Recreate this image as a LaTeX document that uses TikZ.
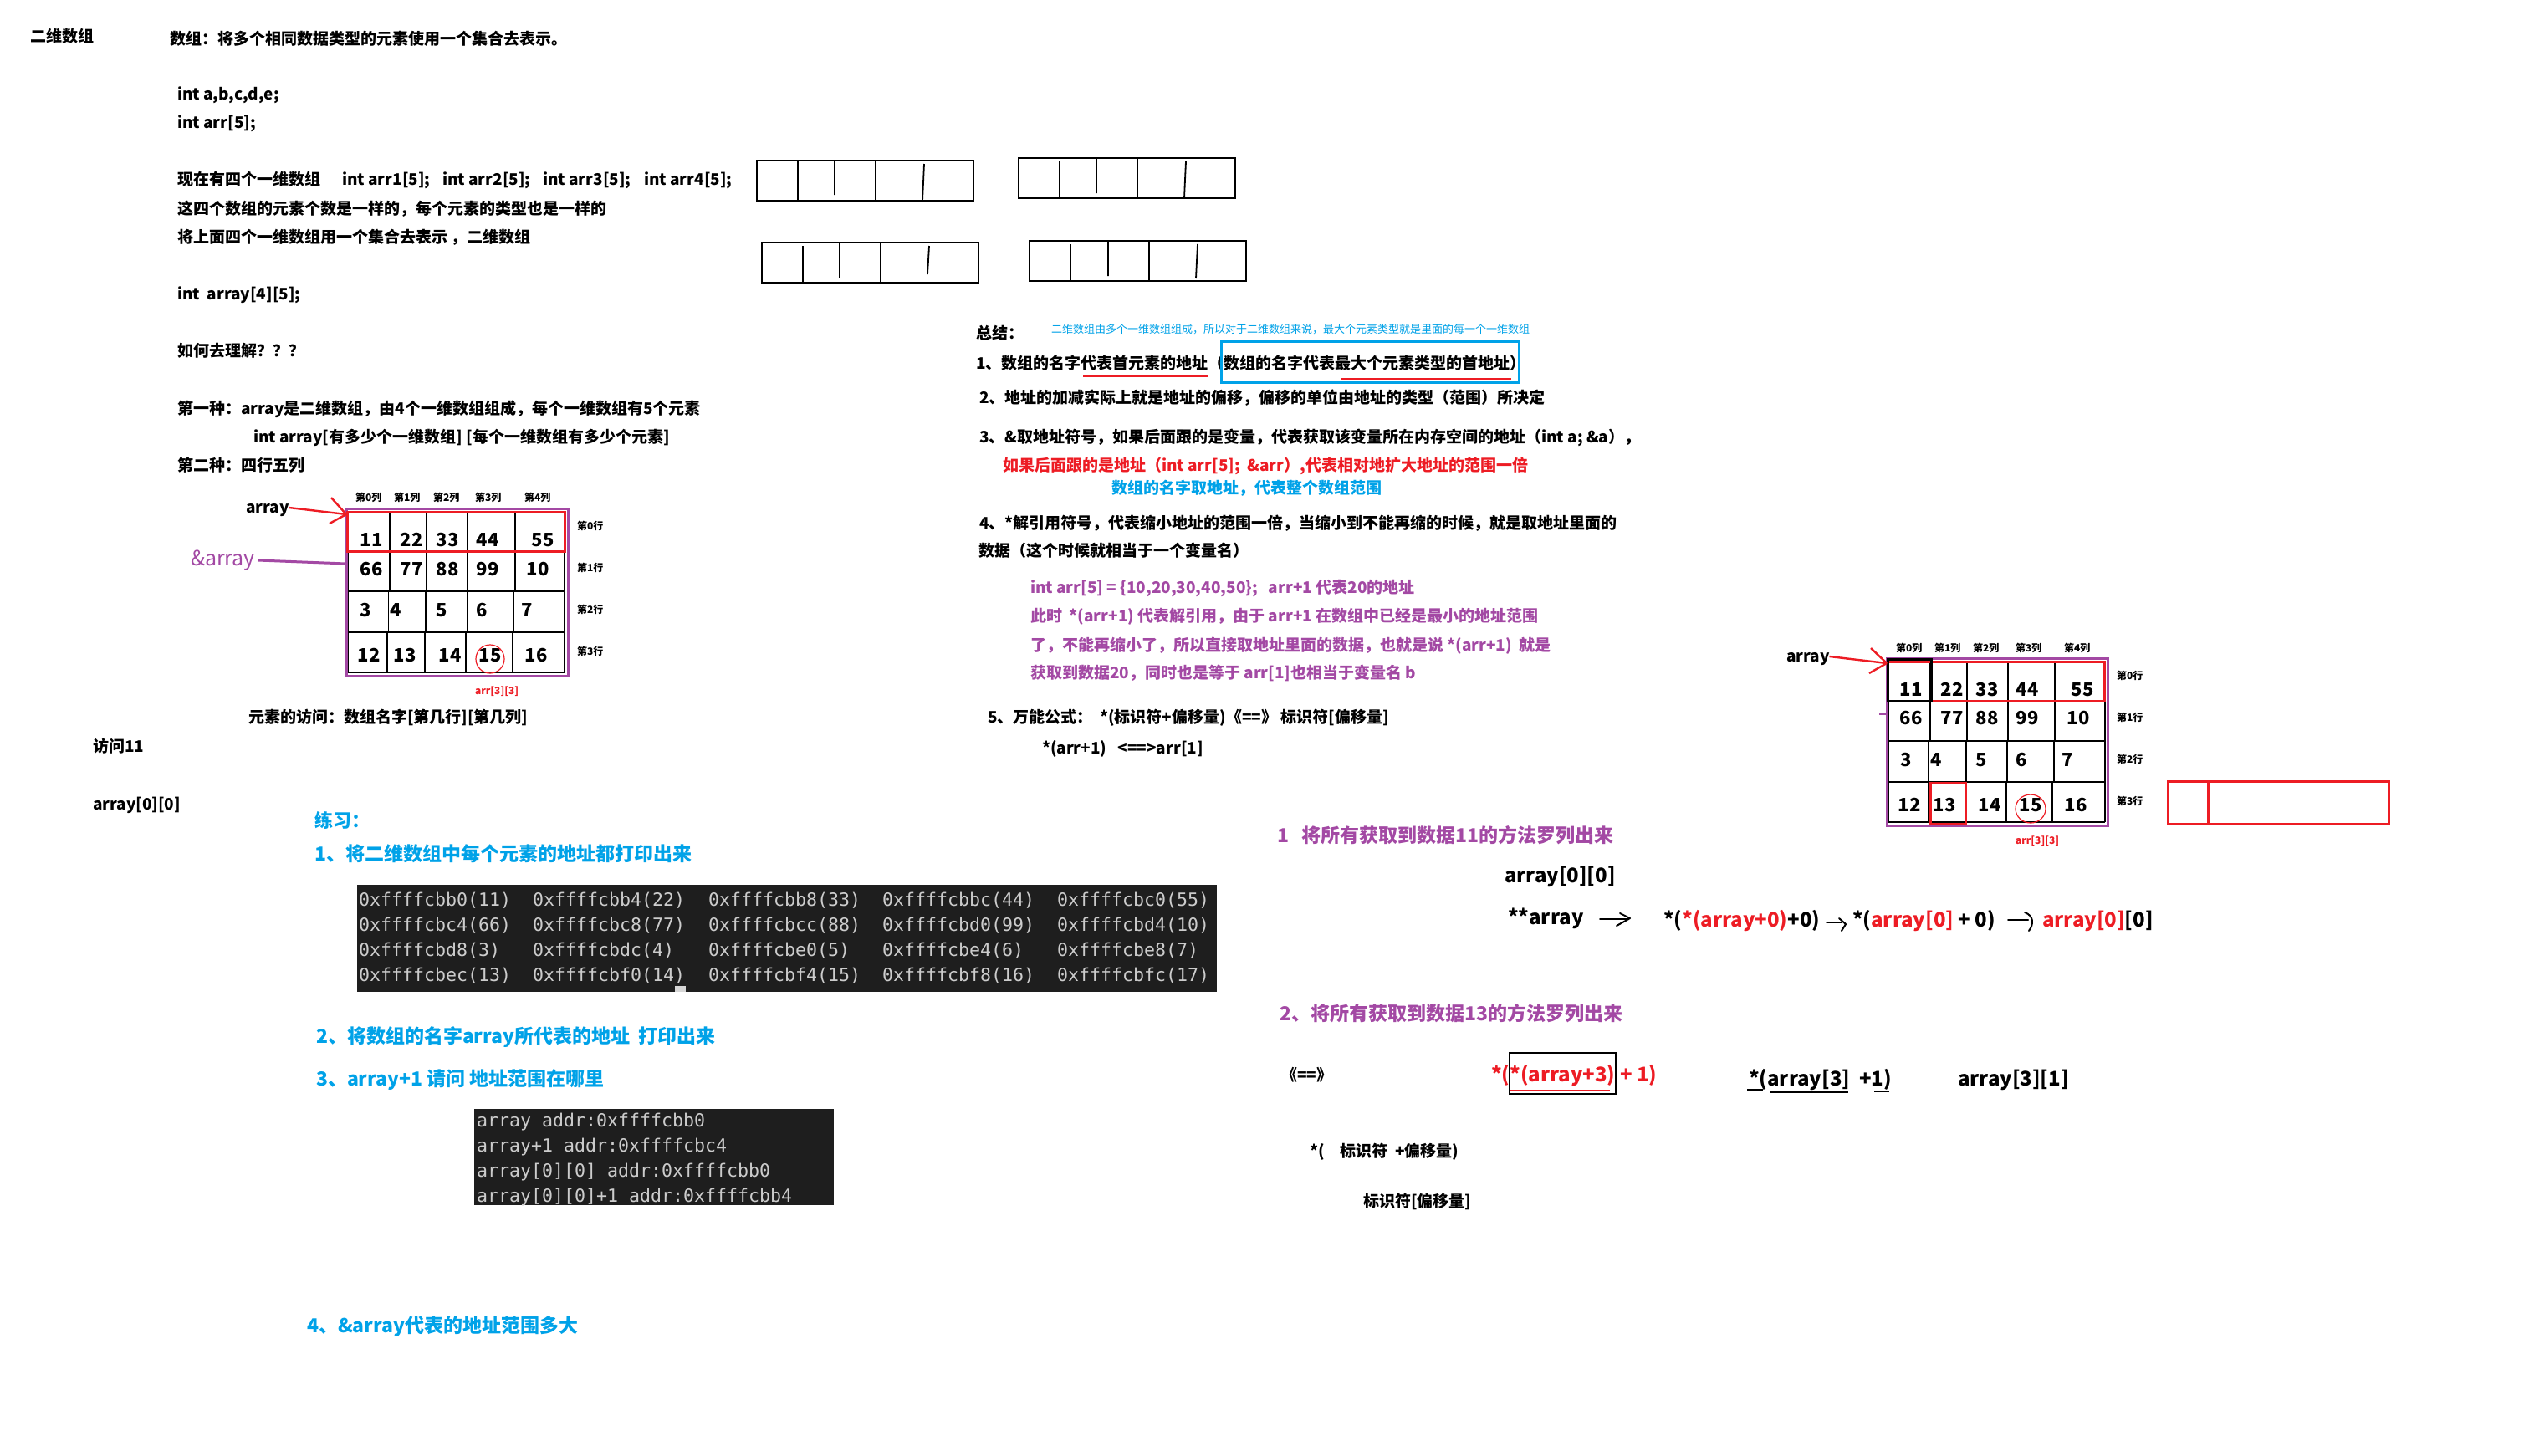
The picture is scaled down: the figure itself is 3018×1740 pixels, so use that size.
\documentclass[tikz,border=0pt]{standalone}
\usepackage{fontspec}
\setmainfont{Noto Sans CJK SC}
\newfontfamily\monof{DejaVu Sans Mono}
\definecolor{pur}{HTML}{A349A4}
\definecolor{rd}{HTML}{ED1C24}
\definecolor{bl}{HTML}{00A2E8}
\definecolor{term}{HTML}{1E1E1E}
\definecolor{termtx}{HTML}{CCCCCC}
\tikzset{
 stb/.style={anchor=west, inner sep=0pt, outer sep=0pt},
 sbody/.style={stb, font=\bfseries\fontsize{9.5}{11}\selectfont, text height=8.1pt, text depth=1.4pt},
 sbig/.style={stb, font=\bfseries\fontsize{12}{14}\selectfont, text height=10.2pt, text depth=1.8pt},
 shead/.style={stb, font=\bfseries\fontsize{11.5}{14}\selectfont, text height=9.8pt, text depth=1.7pt},
 stiny/.style={stb, font=\bfseries\fontsize{6}{7}\selectfont, text height=5.1pt, text depth=0.9pt},
 snote/.style={stb, font=\fontsize{6.5}{7}\selectfont, text=bl, text height=5.5pt, text depth=1pt},
 snum/.style={anchor=center, inner sep=0pt, font=\bfseries\fontsize{11}{12}\selectfont, text height=7.9pt, text depth=0pt},
 smono/.style={stb, font=\monof\fontsize{10.8}{12}\selectfont, text=termtx, text height=8.6pt, text depth=1.1pt},
 sgrid/.style={line width=0.9pt, black},
 sthickred/.style={line width=1.5pt, rd},
 sthickpur/.style={line width=1.5pt, pur},
 sredarrow/.style={line width=1.2pt, rd},
 shand/.style={line width=1pt, black, line cap=round, line join=round},
}
\begin{document}
\begin{tikzpicture}[x=0.5pt,y=-0.5pt]
\useasboundingbox (0,0) rectangle (3018,1740);
\fill[white] (0,0) rectangle (3018,1740);

% ---------- left column text ----------
\node[sbody] (t1) at (36,44) {二维数组};
\node[sbody] (t2) at (203,47) {数组：将多个相同数据类型的元素使用一个集合去表示。};
\node[sbody] (t3) at (212,113) {int a,b,c,d,e;};
\node[sbody] (t4) at (212,147) {int arr[5];};
\node[sbody] (t5) at (212,215) {现在有四个一维数组};
\node[sbody] (t5a) at (409,215) {int arr1[5];};
\node[sbody] (t5b) at (529,215) {int arr2[5];};
\node[sbody] (t5c) at (649,215) {int arr3[5];};
\node[sbody] (t5d) at (770,215) {int arr4[5];};
\node[sbody] (t6) at (212,250) {这四个数组的元素个数是一样的，每个元素的类型也是一样的};
\node[sbody] (t7) at (212,284) {将上面四个一维数组用一个集合去表示 ，二维数组};
\node[sbody] (t8) at (212,352) {int\ \ array[4][5];};
\node[sbody] (t9) at (212,420) {如何去理解？？？};
\node[sbody] (t10) at (212,489) {第一种：array是二维数组，由4个一维数组组成，每个一维数组有5个元素};
\node[sbody] (t11) at (303,523) {int array[有多少个一维数组] [每个一维数组有多少个元素]};
\node[sbody] (t12) at (212,557) {第二种：四行五列};

% ---------- grid 1 ----------
\foreach \x/\l [count=\i] in {425/第0列,471/第1列,518/第2列,568/第3列,627/第4列}
  \node[stiny] (ca\i) at (\x,595) {\l};
\foreach \y/\l [count=\i] in {629/第0行,679/第1行,729/第2行,779/第3行}
  \node[stiny] (ra\i) at (690,\y) {\l};
\draw[sgrid] (416,612) -- (416,804);
\draw[sgrid] (675,612) -- (675,804);
\foreach \y in {659,707,756,804} \draw[sgrid] (415,\y) -- (675,\y);
\foreach \a/\b/\c/\d/\ya/\yb in {466/510/559/616/614/659, 466/510/559/616/659/707, 464.5/509/558.5/614.5/707/756, 463/508/557/613/756/804}{
  \draw[sgrid] (\a,\ya) -- (\a,\yb);
  \draw[sgrid] (\b,\ya) -- (\b,\yb);
  \draw[sgrid] (\c,\ya) -- (\c,\yb);
  \draw[sgrid] (\d,\ya) -- (\d,\yb);
}
\draw[sthickpur] (414,608) rectangle (679,808);
\draw[sthickred] (415,612) rectangle (675,659);
\foreach \x/\v [count=\i] in {444/11,492/22,535/33,583/44,649/55} \node[snum] (na0\i) at (\x,646) {\v};
\foreach \x/\v [count=\i] in {444/66,492/77,535/88,583/99,643/10} \node[snum] (na1\i) at (\x,681) {\v};
\foreach \x/\v [count=\i] in {437/3,473/4,528/5,576/6,630/7} \node[snum] (na2\i) at (\x,730) {\v};
\foreach \x/\v [count=\i] in {441/12,484/13,538/14,586/15,641/16} \node[snum] (na3\i) at (\x,784) {\v};
\draw[rd, line width=0.6pt] (586,788) ellipse [x radius=17, y radius=17];
\node[stiny, text=rd] (arrA) at (568,826) {arr[3][3]};
\node[sbody] (lblA) at (294,607) {array};
\coordinate (tipA) at (414,615);
\draw[sredarrow] (lblA.east) -- (tipA);
\draw[sredarrow] (tipA) -- ++(-18,-20);
\draw[sredarrow] (tipA) -- ++(-20,11);
\node[stb, font=\fontsize{12.5}{14}\selectfont, text=pur, text height=10.6pt, text depth=2pt] (lblB) at (228,668) {\&array};
\coordinate (tipB) at (414,674);
\draw[sthickpur] (lblB.east) ++(4,2) -- (tipB);

\node[sbody] (t13) at (297,858) {元素的访问：数组名字[第几行][第几列]};
\node[sbody] (t14) at (111,893) {访问11};
\node[sbody] (t15) at (111,962) {array[0][0]};

% ---------- exercises ----------
\node[shead, text=bl, font=\bfseries\fontsize{11}{13}\selectfont] (t16) at (376,981) {练习：};
\node[shead, text=bl] (t17) at (376,1021) {1、将二维数组中每个元素的地址都打印出来};
\fill[term] (427,1058) rectangle (1455,1186);
\fill[termtx!80!white] (807,1179) rectangle (820,1186);
\foreach \y/\a/\b/\c/\d/\e [count=\r] in {
 1076/0xffffcbb0(11)/0xffffcbb4(22)/0xffffcbb8(33)/0xffffcbbc(44)/0xffffcbc0(55),
 1106/0xffffcbc4(66)/0xffffcbc8(77)/0xffffcbcc(88)/0xffffcbd0(99)/0xffffcbd4(10),
 1136/0xffffcbd8(3)/0xffffcbdc(4)/0xffffcbe0(5)/0xffffcbe4(6)/0xffffcbe8(7),
 1166/0xffffcbec(13)/0xffffcbf0(14)/0xffffcbf4(15)/0xffffcbf8(16)/0xffffcbfc(17)}{
  \node[smono] (m\r a) at (429,\y) {\a};
  \node[smono] (m\r b) at (637,\y) {\b};
  \node[smono] (m\r c) at (847,\y) {\c};
  \node[smono] (m\r d) at (1055,\y) {\d};
  \node[smono] (m\r e) at (1264,\y) {\e};
}
\node[shead, text=bl] (t18) at (378,1239) {2、将数组的名字array所代表的地址\ \ 打印出来};
\node[shead, text=bl] (t19) at (378,1290) {3、array+1 请问 地址范围在哪里};
\fill[term] (567,1326) rectangle (997,1441);
\node[smono] (p1) at (570,1340) {array addr:0xffffcbb0};
\node[smono] (p2) at (570,1370) {array+1 addr:0xffffcbc4};
\node[smono] (p3) at (570,1400) {array[0][0] addr:0xffffcbb0};
\node[smono] (p4) at (570,1430) {array[0][0]+1 addr:0xffffcbb4};
\node[shead, text=bl] (t20) at (367,1585) {4、\&array代表的地址范围多大};

% ---------- four 1-D boxes ----------
\draw[sgrid] (905,192) rectangle (1164,240);
\draw[sgrid] (954,192) -- (954,240) (998,192) -- (998,233) (1047,192) -- (1047,240) (1105,196) -- (1103,240);
\draw[sgrid] (1218,189) rectangle (1477,237);
\draw[sgrid] (1267,193) -- (1267,237) (1311,189) -- (1311,231) (1360,189) -- (1360,237) (1418,193) -- (1416,237);
\draw[sgrid] (911,290) rectangle (1170,338);
\draw[sgrid] (960,294) -- (960,338) (1004,290) -- (1004,332) (1053,290) -- (1053,338) (1111,294) -- (1109,328);
\draw[sgrid] (1231,288) rectangle (1490,336);
\draw[sgrid] (1280,292) -- (1280,336) (1325,288) -- (1325,330) (1374,288) -- (1374,336) (1432,292) -- (1430,333);

% ---------- summary ----------
\node[sbody] (t21) at (1167,399) {总结：};
\node[snote] (t22) at (1257,394) {二维数组由多个一维数组组成，所以对于二维数组来说，最大个元素类型就是里面的每一个一维数组};
\node[sbody] (t23) at (1167,435) {1、数组的名字代表首元素的地址（数组的名字代表最大个元素类型的首地址）};
\draw[bl, line width=1.5pt] (1460,408) rectangle (1816,457);
\draw[rd, line width=0.8pt] (1295,450) -- (1445,450);
\draw[rd, line width=0.8pt] (1604,453) -- (1807,453);
\node[sbody] (t24) at (1171,476) {2、地址的加减实际上就是地址的偏移，偏移的单位由地址的类型（范围）所决定};
\node[sbody] (t25) at (1171,523) {3、\&取地址符号，如果后面跟的是变量，代表获取该变量所在内存空间的地址（int a; \&a），};
\node[sbody, text=rd] (t26) at (1199,557) {如果后面跟的是地址（int arr[5];\ \ \&arr）,代表相对地扩大地址的范围一倍};
\node[sbody, text=bl] (t27) at (1329,584) {数组的名字取地址，代表整个数组范围};
\node[sbody] (t28) at (1171,626) {4、*解引用符号，代表缩小地址的范围一倍，当缩小到不能再缩的时候，就是取地址里面的};
\node[sbody] (t29) at (1170,659) {数据（这个时候就相当于一个变量名）};
\node[sbody, text=pur] (t30) at (1232,703) {int arr[5] = \{10,20,30,40,50\};\ \ \ arr+1 代表20的地址};
\node[sbody, text=pur] (t31) at (1232,737) {此时\ \ *(arr+1) 代表解引用，由于 arr+1 在数组中已经是最小的地址范围};
\node[sbody, text=pur] (t32) at (1232,772) {了，不能再缩小了，所以直接取地址里面的数据，也就是说 *(arr+1)\ \ 就是};
\node[sbody, text=pur] (t33) at (1232,805) {获取到数据20，同时也是等于 arr[1]也相当于变量名 b};
\node[sbody] (t34) at (1181,858) {5、万能公式：\ \ *(标识符+偏移量)《==》 标识符[偏移量]};
\node[sbody] (t35) at (1246,895) {*(arr+1)\ \ \ <==>arr[1]};

% ---------- grid 2 ----------
\foreach \x/\l [count=\i] in {2267/第0列,2313/第1列,2359/第2列,2410/第3列,2468/第4列}
  \node[stiny] (cb\i) at (\x,775) {\l};
\foreach \y/\l [count=\i] in {808/第0行,858/第1行,908/第2行,958/第3行}
  \node[stiny] (rb\i) at (2531,\y) {\l};
\draw[sgrid] (2258,791) -- (2258,983);
\draw[sgrid] (2517,791) -- (2517,983);
\foreach \y in {839,886,935,983} \draw[sgrid] (2257,\y) -- (2517,\y);
\foreach \a/\b/\c/\d/\ya/\yb in {2308/2352/2401/2457/793/839, 2308/2352/2401/2457/839/886, 2306/2351/2400/2456/886/935, 2306/2351/2399/2454/935/983}{
  \draw[sgrid] (\a,\ya) -- (\a,\yb);
  \draw[sgrid] (\b,\ya) -- (\b,\yb);
  \draw[sgrid] (\c,\ya) -- (\c,\yb);
  \draw[sgrid] (\d,\ya) -- (\d,\yb);
}
\draw[sthickpur] (2256,787) rectangle (2520,987);
\draw[sthickpur] (2247,853) -- (2256,853);
\draw[sthickred] (2257,791) rectangle (2516,838);
\draw[black, line width=1.5pt] (2257,788) rectangle (2309,838);
\draw[sthickred] (2308,936) rectangle (2350,985);
\foreach \x/\v [count=\i] in {2285/11,2334/22,2376/33,2424/44,2490/55} \node[snum] (nb0\i) at (\x,825) {\v};
\foreach \x/\v [count=\i] in {2285/66,2334/77,2376/88,2424/99,2485/10} \node[snum] (nb1\i) at (\x,859) {\v};
\foreach \x/\v [count=\i] in {2279/3,2315/4,2369/5,2417/6,2472/7} \node[snum] (nb2\i) at (\x,909) {\v};
\foreach \x/\v [count=\i] in {2283/12,2325/13,2379/14,2428/15,2482/16} \node[snum] (nb3\i) at (\x,963) {\v};
\draw[rd, line width=0.6pt] (2428,967) ellipse [x radius=18, y radius=17];
\node[stiny, text=rd] (arrB) at (2410,1005) {arr[3][3]};
\node[sbody] (lblC) at (2136,785) {array};
\coordinate (tipC) at (2256,793);
\draw[sredarrow] (lblC.east) -- (tipC);
\draw[sredarrow] (tipC) -- ++(-19,-18);
\draw[sredarrow] (tipC) -- ++(-21,12);
\draw[sthickred] (2592,934) rectangle (2856,985);
\draw[sthickred] (2640,934) -- (2640,985);

% ---------- methods ----------
\node[shead, text=pur] (t36) at (1527,999) {1\ \ \ 将所有获取到数据11的方法罗列出来};
\node[sbig] (t37) at (1799,1047) {array[0][0]};
\node[sbig] (t38) at (1803,1097) {**array};
\draw[shand] (1913,1099) -- (1947,1099);
\draw[shand] (1937,1092) -- (1949,1098) -- (1933,1107);
\node[sbig] (t39) at (1989,1100) {*(\textcolor{rd}{*(array+0)}+0)};
\draw[shand] (2184,1103) -- (2202,1103);
\draw[shand] (2199,1098) -- (2207,1105) -- (2202,1113);
\node[sbig] (t40) at (2215,1100) {*(\textcolor{rd}{ array[0]} + 0)};
\draw[shand] (2401,1100) -- (2425,1100);
\draw[shand] (2421,1091) .. controls (2432,1095) and (2432,1105) .. (2426,1113);
\node[sbig] (t41) at (2442,1100) {\textcolor{rd}{array[0]}[0]};

\node[shead, text=pur] (t42) at (1530,1212) {2、将所有获取到数据13的方法罗列出来};
\node[sbody] (t43) at (1532,1286) {《==》};
\node[sbig, text=rd] (t44) at (1783,1285) {*(*(array+3) + 1)};
\draw[black, line width=0.6pt] (1805,1259) rectangle (1932,1308);
\draw[rd, line width=1.2pt] (1805,1304) -- (1925,1304);
\node[sbig] (t45) at (2091,1290) {*(array[3]\ \ +1)};
\draw[black, line width=0.8pt] (2089,1303) -- (2108,1303);
\draw[black, line width=0.8pt] (2117,1306) -- (2210,1306);
\draw[black, line width=0.8pt] (2241,1305) -- (2259,1305);
\node[sbig] (t46) at (2341,1290) {array[3][1]};
\node[sbody] (t47) at (1566,1377) {*(\quad 标识符\ \ +偏移量)};
\node[sbody] (t48) at (1630,1437) {标识符[偏移量]};
\end{tikzpicture}
\end{document}
